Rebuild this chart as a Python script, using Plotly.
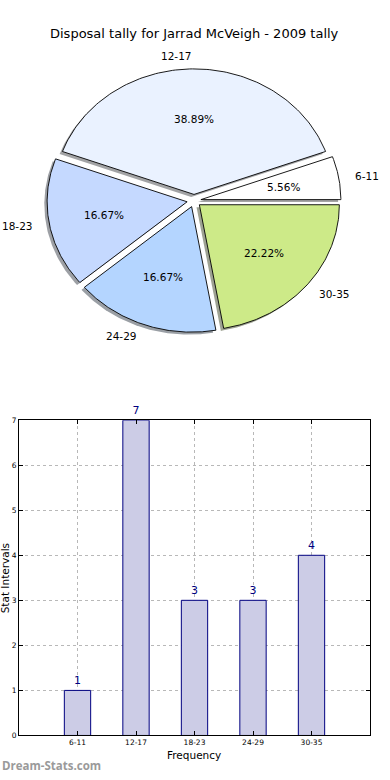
import numpy as np
import plotly.graph_objects as go

categories = ["6-11", "12-17", "18-23", "24-29", "30-35"]
counts = [1, 7, 3, 3, 4]
pie_colors = ["#FFFFFF", "#EAF2FF", "#C5D9FF", "#B4D5FF", "#CDEA88"]
explode = [0.05, 0.05, 0.05, 0.05, 0.05]
title_text = "Disposal tally for Jarrad McVeigh - 2009 tally"

W, H = 390, 780
CX, CY, RX, RY = 194, 199, 140, 127
PIE_BOTTOM = 380

fig = go.Figure()

total = float(sum(counts))
theta = 0.0
slices = []
for cat, c, col, ex in zip(categories, counts, pie_colors, explode):
    t1 = theta
    t2 = theta + 360.0 * c / total
    theta = t2
    mid = np.deg2rad((t1 + t2) / 2)
    dx, dy = ex * np.cos(mid), ex * np.sin(mid)
    a = np.deg2rad(np.linspace(t1, t2, 120))
    xs = np.concatenate([[dx], dx + np.cos(a), [dx]])
    ys = np.concatenate([[dy], dy + np.sin(a), [dy]])
    slices.append((cat, c, col, xs, ys, mid, dx, dy))

def hex_rgb(h):
    h = h.lstrip("#")
    return tuple(int(h[i:i + 2], 16) for i in (0, 2, 4))

# shadows
for cat, c, col, xs, ys, mid, dx, dy in slices:
    r, g, b = hex_rgb(col)
    fig.add_trace(go.Scatter(
        x=xs - 0.02, y=ys - 0.02, fill="toself", mode="lines",
        line=dict(width=0, color="rgba(0,0,0,0)"),
        fillcolor=f"rgba({int(r*0.3)},{int(g*0.3)},{int(b*0.3)},0.5)",
        hoverinfo="skip", showlegend=False, xaxis="x", yaxis="y"))

# slices
for cat, c, col, xs, ys, mid, dx, dy in slices:
    fig.add_trace(go.Scatter(
        x=xs, y=ys, fill="toself", mode="lines",
        line=dict(width=0.9, color="black"), fillcolor=col,
        hoverinfo="skip", showlegend=False, xaxis="x", yaxis="y"))

annotations = []
for cat, c, col, xs, ys, mid, dx, dy in slices:
    lx = dx + 1.1 * np.cos(mid)
    ly = dy + 1.1 * np.sin(mid)
    xa = "left" if lx > 1e-6 else "right"
    annotations.append(dict(x=lx, y=ly, xref="x", yref="y", text=cat,
                            showarrow=False, xanchor=xa, yanchor="middle",
                            font=dict(family="DejaVu Sans", size=10.5, color="black")))
    px = dx + 0.6 * np.cos(mid)
    py = dy + 0.6 * np.sin(mid)
    annotations.append(dict(x=px, y=py, xref="x", yref="y",
                            text=f"{100.0 * c / total:.2f}%",
                            showarrow=False, xanchor="center", yanchor="middle",
                            font=dict(family="DejaVu Sans", size=10.5, color="black")))

# bar chart
xpos = list(range(len(categories)))
fig.add_trace(go.Bar(
    x=xpos, y=counts, width=0.45,
    marker=dict(color="#CCCCE6", line=dict(color="#000080", width=1)),
    text=[str(v) for v in counts], textposition="outside",
    textfont=dict(family="DejaVu Sans", size=11, color="#000080"),
    cliponaxis=False, hoverinfo="skip", showlegend=False,
    xaxis="x2", yaxis="y2"))

annotations.append(dict(x=194.5 / W, y=1 - 30 / H, xref="paper", yref="paper",
                        text=title_text, showarrow=False, xanchor="center",
                        yanchor="middle",
                        font=dict(family="DejaVu Sans", size=13, color="black")))
annotations.append(dict(x=194 / W, y=1 - 760 / H, xref="paper", yref="paper",
                        text="Frequency", showarrow=False, xanchor="center",
                        yanchor="middle",
                        font=dict(family="DejaVu Sans", size=10.5, color="black")))
annotations.append(dict(x=5 / W, y=1 - 581 / H, xref="paper", yref="paper",
                        text="Stat Intervals", showarrow=False, xanchor="center",
                        yanchor="middle", textangle=-90,
                        font=dict(family="DejaVu Sans", size=10.5, color="black")))
annotations.append(dict(x=0, y=1 - 770 / H, xref="paper", yref="paper",
                        text="<b>Dream-Stats.com</b>", showarrow=False,
                        xanchor="left", yanchor="middle",
                        font=dict(family="Open Sans", size=11.5, color="#9a9a9a")))

fig.update_layout(
    width=W, height=H, margin=dict(l=0, r=0, t=0, b=0),
    paper_bgcolor="white", plot_bgcolor="white",
    annotations=annotations,
    xaxis=dict(domain=[0, 1], range=[-CX / RX, (W - CX) / RX], visible=False,
               fixedrange=True),
    yaxis=dict(domain=[1 - PIE_BOTTOM / H, 1],
               range=[-(PIE_BOTTOM - CY) / RY, CY / RY], visible=False,
               fixedrange=True),
    xaxis2=dict(domain=[19 / W, 370 / W], range=[-1, 5], anchor="y2",
                tickmode="array", tickvals=xpos, ticktext=categories,
                tickfont=dict(family="DejaVu Sans", size=7.5, color="black"),
                showline=True, linecolor="black", linewidth=1, mirror="ticks",
                ticks="inside", ticklen=4, tickcolor="black",
                showgrid=True, gridcolor="#b8b8b8", griddash="dot", gridwidth=1,
                zeroline=False, fixedrange=True),
    yaxis2=dict(domain=[1 - 740 / H, 1 - 421 / H], range=[0, 7], anchor="x2",
                tickmode="linear", tick0=0, dtick=1,
                tickfont=dict(family="DejaVu Sans", size=7.5, color="black"),
                showline=True, linecolor="black", linewidth=1, mirror="ticks",
                ticks="inside", ticklen=4, tickcolor="black",
                showgrid=True, gridcolor="#b8b8b8", griddash="dot", gridwidth=1,
                zeroline=False, fixedrange=True),
)

fig.write_html(
    "out.html",
    config={"displayModeBar": False, "staticPlot": True},
    post_script="document.body.style.margin='0';document.body.style.padding='0';document.body.style.overflow='hidden';",
)
